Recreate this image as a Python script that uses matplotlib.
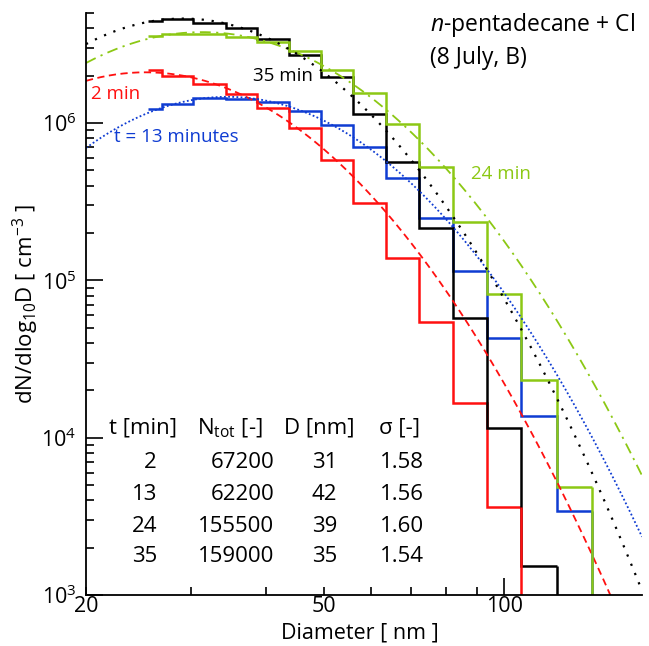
import numpy as np
import matplotlib
matplotlib.use("Agg")
import matplotlib.pyplot as plt

plt.rcParams['font.family'] = ['Open Sans', 'DejaVu Sans']
plt.rcParams['mathtext.fontset'] = 'custom'
plt.rcParams['mathtext.rm'] = 'Open Sans'
plt.rcParams['mathtext.it'] = 'Open Sans:italic'
plt.rcParams['mathtext.default'] = 'regular'

# bin edges of the size distribution [nm]
edges = [25.4, 26.8, 30.2, 34.3, 38.6, 43.7, 49.4, 55.9, 63.5, 72.1, 82.2, 93.7, 106.8, 122.6, 140.3]

# measured dN/dlogD per bin [cm^-3]
dist_2 = [2.17e6, 1.99e6, 1.77e6, 1.53e6, 1.24e6, 9.3e5, 5.82e5, 3.11e5, 1.39e5, 5.47e4, 1.65e4, 3.62e3]
dist_13 = [1.23e6, 1.32e6, 1.44e6, 1.42e6, 1.36e6, 1.19e6, 9.7e5, 7.05e5, 4.48e5, 2.5e5, 1.15e5, 4.33e4, 1.37e4, 3.41e3]
dist_24 = [3.56e6, 3.67e6, 3.67e6, 3.52e6, 3.25e6, 2.86e6, 2.17e6, 1.55e6, 9.86e5, 5.26e5, 2.36e5, 8.24e4, 2.31e4, 4.85e3]
dist_35 = [4.43e6, 4.55e6, 4.33e6, 4.01e6, 3.43e6, 2.7e6, 1.97e6, 1.14e6, 5.66e5, 2.16e5, 5.8e4, 1.15e4, 1.53e3]

# fit parameters (table)
t_min = [2, 13, 24, 35]
n_tot = [67200, 62200, 155500, 159000]
d_fit = [31, 42, 39, 35]
sigma = [1.58, 1.56, 1.60, 1.54]

colors = ['#ff1010', '#0f3cd2', '#8cc814', 'black']
fit_styles = [(0, (4, 2.5)), (0, (1, 1.3)), (0, (6, 3, 1.2, 3)), (0, (1, 3.5))]
dists = [dist_2, dist_13, dist_24, dist_35]

YMIN, YMAX = 1e3, 5e6
XMIN, XMAX = 20, 170


def lognormal(d, n, dg, sg):
    """dN/dD of a lognormal mode, D in um."""
    ls = np.log(sg)
    return n / (np.sqrt(2 * np.pi) * d * 1e-3 * ls) * np.exp(-(np.log(d / dg)) ** 2 / (2 * ls ** 2))


fig = plt.figure(figsize=(6.49, 6.46), dpi=100)
ax = fig.add_axes([86 / 649, 1 - 595 / 646, (642 - 86) / 649, (595 - 13) / 646])
ax.set_xscale('log')
ax.set_yscale('log')

d = np.logspace(np.log10(XMIN), np.log10(XMAX), 300)
for i in range(4):
    ax.plot(d, lognormal(d, n_tot[i], d_fit[i], sigma[i]), color=colors[i],
            linestyle=fit_styles[i], lw=1.3 if i != 3 else 1.6)

for i in [1, 0, 3, 2]:
    vals = dists[i]
    e = edges[:len(vals) + 1]
    ax.stairs(vals, e, baseline=None, color=colors[i], lw=1.8)
    ax.vlines(e[-1], YMIN * 0.5, vals[-1], color=colors[i], lw=1.8)

ax.set_xlim(XMIN, XMAX)
ax.set_ylim(YMIN, YMAX)

for s in ['top', 'right']:
    ax.spines[s].set_visible(False)
ax.spines['left'].set_linewidth(1.3)
ax.spines['bottom'].set_linewidth(1.3)

ax.set_xticks([100], ['100'])
ax.set_xticks([20, 30, 40, 50, 60, 70, 80, 90], ['20', '', '', '50', '', '', '', ''], minor=True)
ax.set_yticks([1e3, 1e4, 1e5, 1e6], ['10$^{3}$', '10$^{4}$', '10$^{5}$', '10$^{6}$'])
ax.tick_params(which='both', direction='in', labelsize=15.5, width=1.2)
ax.tick_params(which='major', length=12)
ax.tick_params(which='minor', length=6)
ax.tick_params(axis='x', which='both', pad=1)
ax.tick_params(axis='y', which='both', pad=7)

ax.set_ylabel('dN/dlog$_{10}$D [ cm$^{-3}$ ]', fontsize=16, labelpad=0)


def ftext(x, y, s, **kw):
    fig.text(x / 649, 1 - y / 646, s, va='center', **kw)


ftext(360, 633, 'Diameter [ nm ]', fontsize=15.5, ha='center')
ftext(430, 25, '$\\mathit{n}$-pentadecane + Cl', fontsize=16.5)
ftext(430, 58, '(8 July, B)', fontsize=16.5)
ftext(253, 76, '35 min', fontsize=13.5, color=colors[3])
ftext(91, 94, '2 min', fontsize=13.5, color=colors[0])
ftext(114, 137, 't = 13 minutes', fontsize=13.5, color=colors[1])
ftext(471, 174, '24 min', fontsize=13.5, color=colors[2])

# table of fit results
ftext(109, 428, 't [min]', fontsize=16)
ftext(197, 428, 'N$_{tot}$ [-]', fontsize=16)
ftext(284, 428, 'D [nm]', fontsize=16)
ftext(379, 428, 'σ [-]', fontsize=16)
row_y = [462, 494, 526, 557]
for i in range(4):
    ftext(157, row_y[i], str(t_min[i]), fontsize=16, ha='right')
    ftext(274, row_y[i], str(n_tot[i]), fontsize=16, ha='right')
    ftext(337, row_y[i], str(d_fit[i]), fontsize=16, ha='right')
    ftext(424, row_y[i], f'{sigma[i]:.2f}', fontsize=16, ha='right')

fig.savefig('out.png', dpi=100)
